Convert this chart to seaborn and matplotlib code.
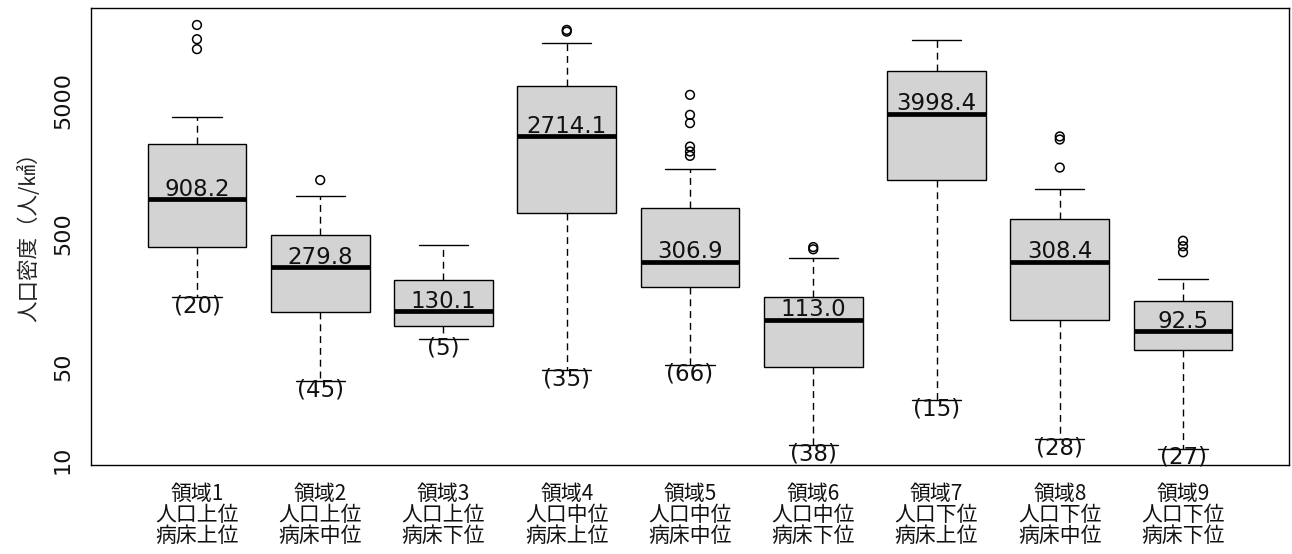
import matplotlib
matplotlib.use("Agg")
import matplotlib.pyplot as plt
import pandas as pd
import seaborn as sns

# region labels (x axis)
regions = [
    "領域1\n人口上位\n病床上位", "領域2\n人口上位\n病床中位", "領域3\n人口上位\n病床下位",
    "領域4\n人口中位\n病床上位", "領域5\n人口中位\n病床中位", "領域6\n人口中位\n病床下位",
    "領域7\n人口下位\n病床上位", "領域8\n人口下位\n病床中位", "領域9\n人口下位\n病床下位",
]

# five number summaries (人/㎢)
lower_whisker = [166, 38.7, 80.7, 47.2, 51.2, 12.9, 27.9, 14.3, 12.1]
q1 = [399, 129, 100.5, 716, 199, 49.4, 1268, 112.8, 66.4]
medians = [908.2, 279.8, 130.1, 2714.1, 306.9, 113.0, 3998.4, 308.4, 92.5]
q3 = [2375, 491, 225, 6520, 784, 168, 8410, 648, 156]
upper_whisker = [3810, 960, 413, 13720, 1530, 328, 14390, 1077, 228]

# outliers per region
outliers = [
    [18620, 14550, 12250],
    [1268],
    [],
    [17100, 16600],
    [5550, 3925, 3400, 2265, 2080, 1929],
    [397, 382],
    [],
    [2700, 2560, 1575],
    [443, 403, 363],
]

# number of areas in each region
counts = [20, 45, 5, 35, 66, 38, 15, 28, 27]

# long-form tables for seaborn
rows = []
for i, r in enumerate(regions):
    for v in [lower_whisker[i], q1[i], medians[i], q3[i], upper_whisker[i]]:
        rows.append({"region": r, "value": v})
df = pd.DataFrame(rows)

out_rows = []
for i, r in enumerate(regions):
    for v in outliers[i]:
        out_rows.append({"region": r, "value": v})
df_out = pd.DataFrame(out_rows)

sns.set_style("white")
plt.rcParams["font.family"] = ["DejaVu Sans", "Noto Sans CJK JP"]

fig = plt.figure(figsize=(12.92, 5.54), dpi=100)
ax = fig.add_axes([0.0704, 0.1606, 0.9273, 0.825])

sns.boxplot(data=df, x="region", y="value", order=regions, whis=(0, 100),
            width=0.8, color="#d3d3d3", saturation=1, linecolor="black",
            linewidth=1.0, showfliers=False, log_scale=True,
            whiskerprops=dict(linestyle=(0, (5, 3.5))),
            capprops=dict(linestyle="-"),
            medianprops=dict(linewidth=3.4, color="black"),
            ax=ax)

sns.stripplot(data=df_out, x="region", y="value", order=regions, jitter=False,
              color="black", facecolors="none", edgecolor="black", linewidth=1.1,
              size=6.3, ax=ax)

# median labels and counts
for i in range(len(regions)):
    ax.annotate(f"{medians[i]:.1f}", (i, medians[i]), xytext=(0, 2.5),
                textcoords="offset points", ha="center", va="baseline",
                fontsize=16.5, color="#111111")
    ax.annotate(f"({counts[i]})", (i, lower_whisker[i]), xytext=(0, 2),
                textcoords="offset points", ha="center", va="top",
                fontsize=16.5, color="#111111")

ax.set_xlim(-0.86, 8.86)
ax.set_ylim(9.1, 25000)
ax.set_yticks([10, 50, 100, 500, 1000, 5000, 10000])
ax.set_yticklabels(["10", "50", "", "500", "", "5000", ""], rotation=90, va="center")
ax.minorticks_off()
ax.set_xticks(range(len(regions)))
ax.set_xticklabels(regions, fontsize=15, family=["Noto Sans CJK JP"], linespacing=0.95)
ax.tick_params(axis="both", direction="out", length=9, width=1, color="black",
               labelcolor="#111111")
ax.tick_params(axis="y", labelsize=16, pad=4)
ax.tick_params(axis="x", pad=4)
ax.set_xlabel("")
ax.set_ylabel("人口密度（人/㎢）", fontsize=15.5, family=["Noto Sans CJK JP"])
ax.yaxis.set_label_coords(-0.042, 0.51)
for s in ax.spines.values():
    s.set_color("black")
    s.set_linewidth(1.0)

fig.savefig("out.png", dpi=100)
